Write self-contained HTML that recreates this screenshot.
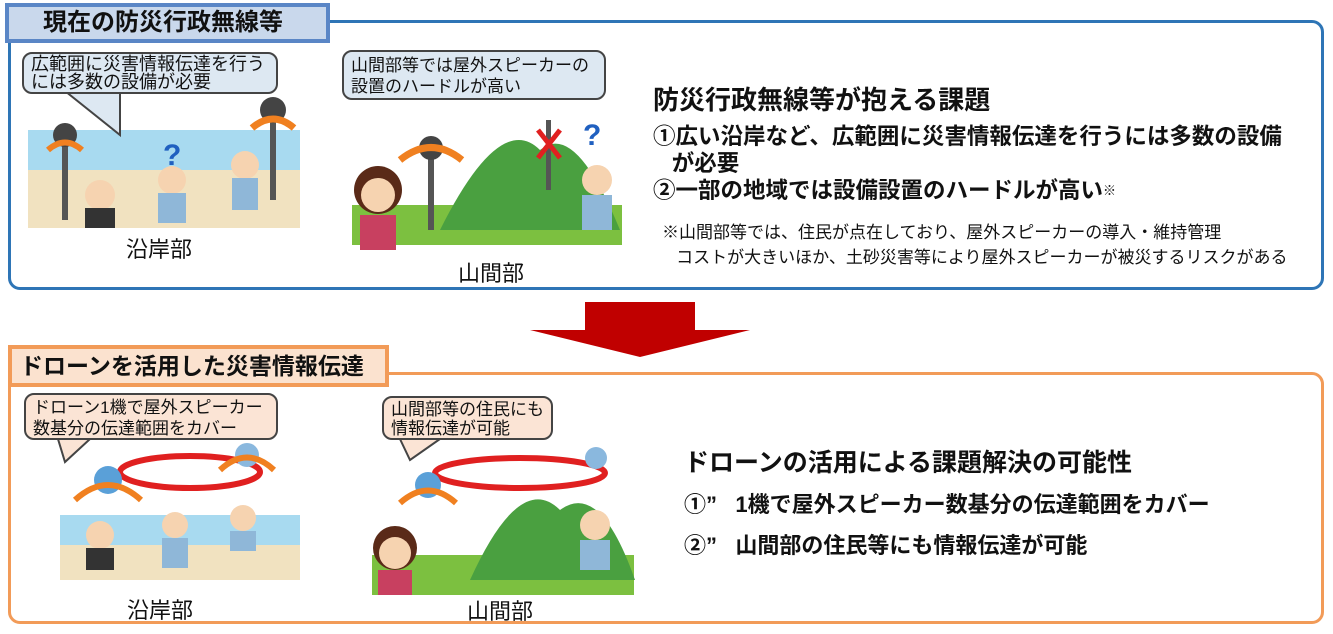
<!DOCTYPE html>
<html><head><meta charset="utf-8"><style>
body{margin:0;width:1333px;height:634px;background:#fff;position:relative;overflow:hidden;font-family:"Liberation Sans","Noto Sans CJK JP",sans-serif;color:#111}
.a{position:absolute;white-space:nowrap}
.bub{position:absolute;border:2px solid #444;border-radius:10px;font-size:17px;line-height:21px;padding:2px 7px;box-sizing:border-box;white-space:nowrap}
.b{font-weight:bold}
</style></head><body>
<div class="a" style="left:8px;top:20px;width:1316px;height:270px;border:3px solid #2e75b6;border-radius:12px;box-sizing:border-box"></div>
<div class="a b" style="left:5px;top:3px;width:325px;height:40px;background:#c9d8ec;border:4px solid #5a86c6;box-sizing:border-box;font-size:24px;line-height:32px;padding-left:34px">現在の防災行政無線等</div>

<svg class="a" style="left:0;top:0" width="1333" height="634">
<rect x="28" y="130" width="272" height="45" fill="#a8daf0"/>
<rect x="28" y="170" width="272" height="58" fill="#f1e2c0"/>
<rect x="62" y="130" width="6" height="90" fill="#555"/><circle cx="65" cy="135" r="12" fill="#444"/>
<path d="M48 150 q17 -15 34 0" stroke="#f08020" stroke-width="6" fill="none"/>
<rect x="270" y="100" width="6" height="100" fill="#555"/><circle cx="273" cy="110" r="13" fill="#444"/>
<path d="M252 128 q21 -18 42 0" stroke="#f08020" stroke-width="7" fill="none"/>
<circle cx="100" cy="195" r="15" fill="#f6d3b0"/><rect x="85" y="208" width="30" height="20" fill="#333"/>
<circle cx="172" cy="180" r="14" fill="#f6d3b0"/><rect x="158" y="193" width="28" height="30" fill="#8fb7d8"/>
<text x="163" y="165" font-size="30" font-weight="bold" fill="#2060c0" font-family="Liberation Sans">?</text>
<circle cx="245" cy="165" r="14" fill="#f6d3b0"/><rect x="232" y="178" width="26" height="32" fill="#8fb7d8"/>
<rect x="352" y="205" width="270" height="40" fill="#7cc040"/>
<path d="M440 230 Q500 110 540 150 Q575 120 620 230 Z" fill="#4aa040"/>
<rect x="428" y="140" width="6" height="90" fill="#555"/><circle cx="431" cy="148" r="12" fill="#444"/>
<path d="M400 160 q31 -25 62 0" stroke="#f08020" stroke-width="7" fill="none"/>
<rect x="546" y="120" width="5" height="70" fill="#555"/>
<path d="M538 130 l22 28 M560 130 l-22 28" stroke="#e02020" stroke-width="5"/>
<text x="583" y="145" font-size="30" font-weight="bold" fill="#2060c0" font-family="Liberation Sans">?</text>
<circle cx="378" cy="190" r="24" fill="#5a2a18"/><circle cx="378" cy="195" r="17" fill="#f6d3b0"/><rect x="360" y="215" width="36" height="35" fill="#c84060"/>
<circle cx="597" cy="180" r="15" fill="#f6d3b0"/><rect x="582" y="195" width="30" height="35" fill="#8fb7d8"/>
<polygon points="585,302 695,302 695,330 750,330 640,357 530,330 585,330" fill="#c00000"/>
<rect x="60" y="515" width="240" height="30" fill="#a8daf0"/>
<rect x="60" y="545" width="240" height="35" fill="#f1e2c0"/>
<circle cx="100" cy="535" r="14" fill="#f6d3b0"/><rect x="86" y="548" width="28" height="22" fill="#333"/>
<circle cx="175" cy="525" r="13" fill="#f6d3b0"/><rect x="162" y="538" width="26" height="30" fill="#8fb7d8"/>
<circle cx="243" cy="518" r="13" fill="#f6d3b0"/><rect x="230" y="531" width="26" height="20" fill="#8fb7d8"/>
<ellipse cx="190" cy="472" rx="70" ry="16" fill="none" stroke="#e02020" stroke-width="6"/>
<circle cx="108" cy="480" r="14" fill="#5aa0d8"/><circle cx="247" cy="455" r="12" fill="#8ab8de"/>
<path d="M75 500 q33 -30 66 0 M220 470 q27 -25 54 0" stroke="#f08020" stroke-width="6" fill="none"/>
<rect x="372" y="555" width="262" height="40" fill="#7cc040"/>
<path d="M470 580 Q520 470 560 510 Q600 480 635 580 Z" fill="#4aa040"/>
<ellipse cx="520" cy="473" rx="85" ry="15" fill="none" stroke="#e02020" stroke-width="6"/>
<circle cx="428" cy="485" r="13" fill="#5aa0d8"/><circle cx="596" cy="458" r="11" fill="#8ab8de"/>
<path d="M400 503 q28 -25 56 0" stroke="#f08020" stroke-width="6" fill="none"/>
<circle cx="395" cy="548" r="22" fill="#5a2a18"/><circle cx="395" cy="553" r="16" fill="#f6d3b0"/><rect x="378" y="570" width="34" height="25" fill="#c84060"/>
<circle cx="595" cy="525" r="15" fill="#f6d3b0"/><rect x="580" y="540" width="30" height="30" fill="#8fb7d8"/>
<polygon points="65,91 120,91 120,135" fill="#dde8f2" stroke="#444" stroke-width="2"/>
<polygon points="58,439 90,439 65,462" fill="#fbe4d5" stroke="#444" stroke-width="2"/>
<polygon points="400,439 440,439 410,460" fill="#fbe4d5" stroke="#444" stroke-width="2"/>
</svg>

<div class="bub" style="left:22px;top:52px;width:256px;height:42px;background:#dde8f2;font-size:18px;line-height:18px;padding-top:1px">広範囲に災害情報伝達を行う<br>には多数の設備が必要</div>
<div class="bub" style="left:342px;top:50px;width:264px;height:50px;background:#dde8f2;padding-top:3px">山間部等では屋外スピーカーの<br>設置のハードルが高い</div>
<div class="a" style="left:126px;top:232px;font-size:22px">沿岸部</div>
<div class="a" style="left:458px;top:256px;font-size:22px">山間部</div>

<div class="a b" style="left:653px;top:80px;font-size:26px">防災行政無線等が抱える課題</div>
<div class="a b" style="left:653px;top:123px;font-size:22.5px;line-height:27px">①広い沿岸など、広範囲に災害情報伝達を行うには多数の設備<br>&nbsp;&nbsp;&nbsp;が必要<br>②一部の地域では設備設置のハードルが高い<span style="font-size:13px;vertical-align:top">※</span></div>
<div class="a" style="left:662px;top:220px;font-size:17px;line-height:25px">※山間部等では、住民が点在しており、屋外スピーカーの導入・維持管理<br>&nbsp;&nbsp;&nbsp;コストが大きいほか、土砂災害等により屋外スピーカーが被災するリスクがある</div>

<div class="a" style="left:8px;top:372px;width:1316px;height:252px;border:3px solid #f29b58;border-radius:12px;box-sizing:border-box"></div>
<div class="a b" style="left:8px;top:345px;width:381px;height:42px;background:#fbe2cf;border:4px solid #f29b58;box-sizing:border-box;font-size:23px;line-height:34px;padding-left:8px">ドローンを活用した災害情報伝達</div>
<div class="bub" style="left:24px;top:393px;width:254px;height:47px;background:#fbe4d5">ドローン1機で屋外スピーカー<br>数基分の伝達範囲をカバー</div>
<div class="bub" style="left:382px;top:396px;width:171px;height:44px;background:#fbe4d5;line-height:19px">山間部等の住民にも<br>情報伝達が可能</div>
<div class="a" style="left:127px;top:593px;font-size:22px">沿岸部</div>
<div class="a" style="left:467px;top:594px;font-size:22px">山間部</div>

<div class="a b" style="left:684px;top:443px;font-size:25px">ドローンの活用による課題解決の可能性</div>
<div class="a b" style="left:684px;top:487px;font-size:22px">①”&nbsp;&nbsp;&nbsp;1機で屋外スピーカー数基分の伝達範囲をカバー</div>
<div class="a b" style="left:684px;top:528px;font-size:22px">②”&nbsp;&nbsp;&nbsp;山間部の住民等にも情報伝達が可能</div>
</body></html>
